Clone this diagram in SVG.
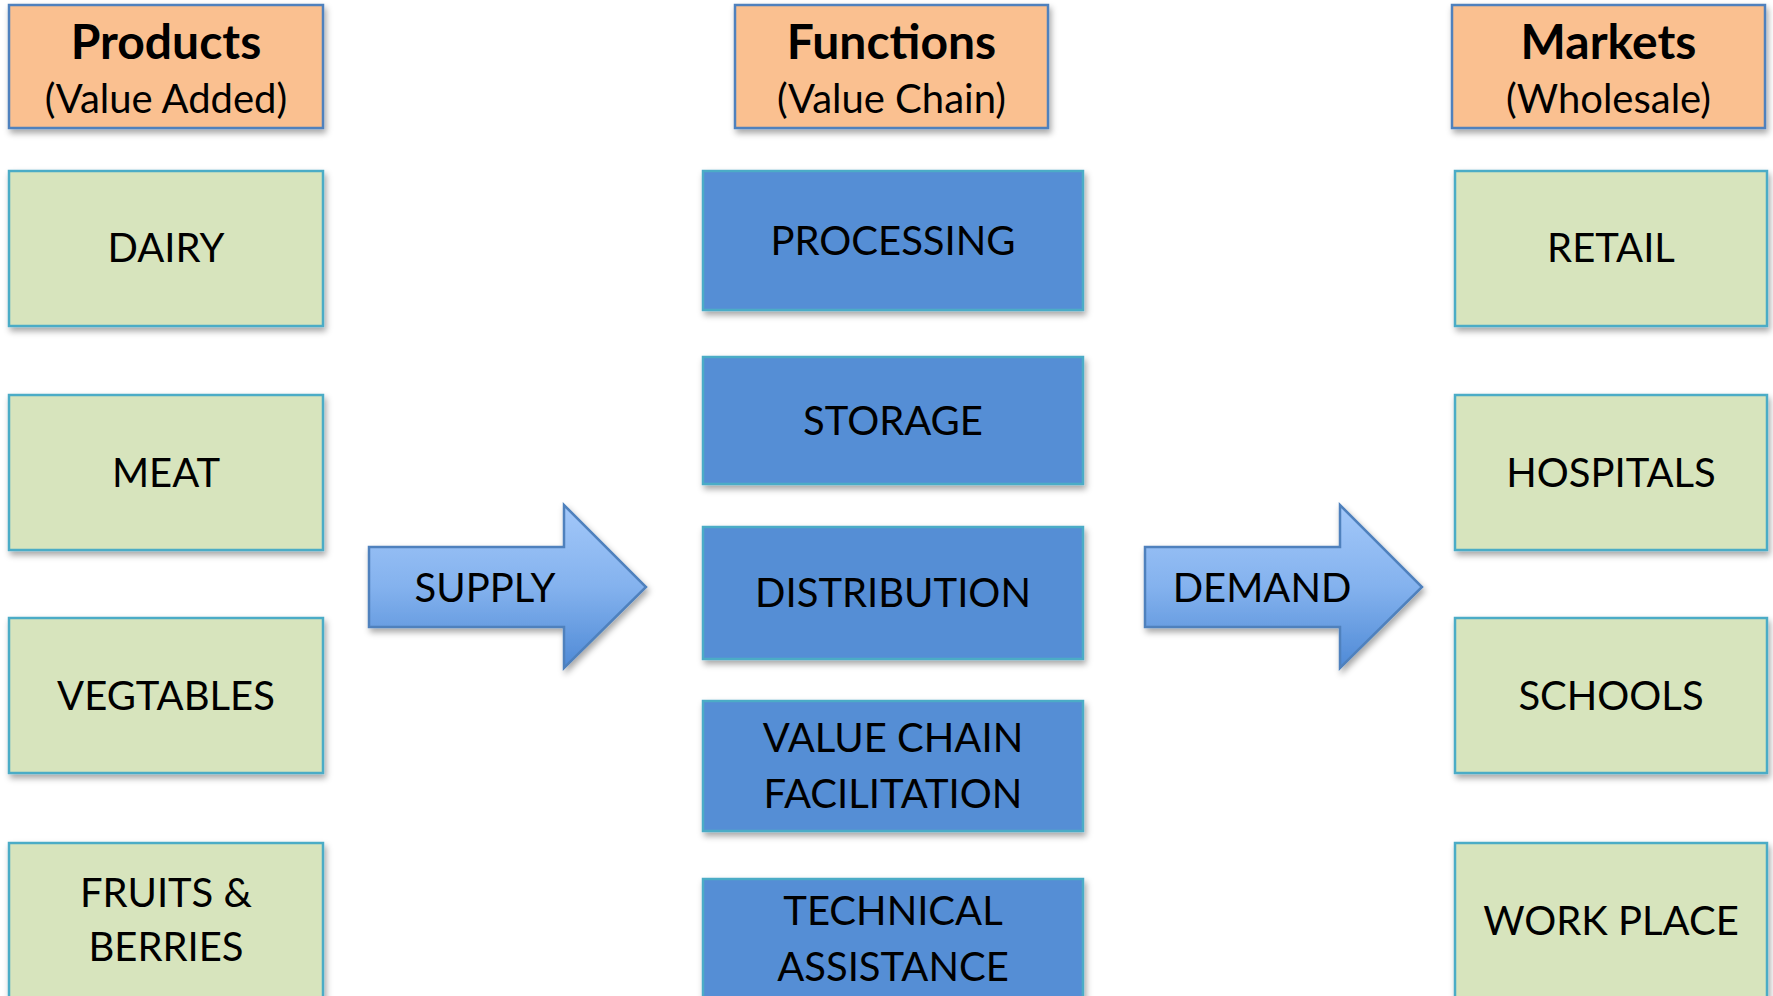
<svg xmlns="http://www.w3.org/2000/svg" width="1773" height="996" viewBox="0 0 1773 996">
<style>
text{font-family:Lato,"Liberation Sans",sans-serif;fill:#000;text-anchor:middle}
.t{font-size:40px}
.h{font-size:48px;font-weight:bold}
.hs{font-size:40px}
.hdr{fill:#FAC090;stroke:#4F81BD;stroke-width:2.5}
.grn{fill:#D7E4BD;stroke:#4BACC6;stroke-width:2.5}
.blu{fill:#558ED5;stroke:#4BACC6;stroke-width:2.5}
.arr{fill:url(#ag);stroke:#4F81BD;stroke-width:2.5;stroke-linejoin:miter}
</style>
<defs>
<filter id="sh" x="-10%" y="-10%" width="125%" height="130%">
<feDropShadow dx="2" dy="4" stdDeviation="3" flood-color="#000" flood-opacity="0.35"/>
</filter>
<linearGradient id="ag" x1="0" y1="0" x2="0" y2="1">
<stop offset="0" stop-color="#A3C8F9"/>
<stop offset="0.5" stop-color="#84B2EE"/>
<stop offset="1" stop-color="#4F8AD6"/>
</linearGradient>
</defs>
<rect width="1773" height="996" fill="#fff"/>

<g id="hdr-products"><rect class="hdr" filter="url(#sh)" x="9" y="5" width="314" height="123"/><text class="h" x="166" y="59">Products</text><text class="hs" x="166" y="113">(Value Added)</text></g>
<g id="hdr-functions"><rect class="hdr" filter="url(#sh)" x="735" y="5" width="313" height="123"/><text class="h" x="891.5" y="59">Functions</text><text class="hs" x="891.5" y="113">(Value Chain)</text></g>
<g id="hdr-markets"><rect class="hdr" filter="url(#sh)" x="1452" y="5" width="313" height="123"/><text class="h" x="1608.5" y="59">Markets</text><text class="hs" x="1608.5" y="113">(Wholesale)</text></g>

<g id="dairy"><rect class="grn" filter="url(#sh)" x="9" y="171" width="314" height="155"/><text class="t" x="166" y="262">DAIRY</text></g>
<g id="meat"><rect class="grn" filter="url(#sh)" x="9" y="395" width="314" height="155"/><text class="t" x="166" y="487">MEAT</text></g>
<g id="vegtables"><rect class="grn" filter="url(#sh)" x="9" y="618" width="314" height="155"/><text class="t" x="166" y="710">VEGTABLES</text></g>
<g id="fruits"><rect class="grn" filter="url(#sh)" x="9" y="843" width="314" height="155"/><text class="t" x="166" y="907">FRUITS &amp;</text><text class="t" x="166" y="961">BERRIES</text></g>

<g id="processing"><rect class="blu" filter="url(#sh)" x="703" y="171" width="380" height="139"/><text class="t" x="893" y="255">PROCESSING</text></g>
<g id="storage"><rect class="blu" filter="url(#sh)" x="703" y="357" width="380" height="127"/><text class="t" x="893" y="435">STORAGE</text></g>
<g id="distribution"><rect class="blu" filter="url(#sh)" x="703" y="527" width="380" height="132"/><text class="t" x="893" y="607">DISTRIBUTION</text></g>
<g id="vcf"><rect class="blu" filter="url(#sh)" x="703" y="701" width="380" height="130"/><text class="t" x="893" y="752">VALUE CHAIN</text><text class="t" x="893" y="808">FACILITATION</text></g>
<g id="tech"><rect class="blu" filter="url(#sh)" x="703" y="879" width="380" height="130"/><text class="t" x="893" y="925">TECHNICAL</text><text class="t" x="893" y="981">ASSISTANCE</text></g>

<g id="retail"><rect class="grn" filter="url(#sh)" x="1455" y="171" width="312" height="155"/><text class="t" x="1611" y="262">RETAIL</text></g>
<g id="hospitals"><rect class="grn" filter="url(#sh)" x="1455" y="395" width="312" height="155"/><text class="t" x="1611" y="487">HOSPITALS</text></g>
<g id="schools"><rect class="grn" filter="url(#sh)" x="1455" y="618" width="312" height="155"/><text class="t" x="1611" y="710">SCHOOLS</text></g>
<g id="workplace"><rect class="grn" filter="url(#sh)" x="1455" y="843" width="312" height="155"/><text class="t" x="1611" y="935">WORK PLACE</text></g>

<g id="connectors">
<g id="supply"><path class="arr" filter="url(#sh)" d="M369,547 L564,547 L564,505 L646,587 L564,668 L564,627 L369,627 Z"/><text class="t" x="485" y="602">SUPPLY</text></g>
<g id="demand"><path class="arr" filter="url(#sh)" d="M1145,547 L1340,547 L1340,505 L1422,587 L1340,668 L1340,627 L1145,627 Z"/><text class="t" x="1262" y="602">DEMAND</text></g>
</g>
</svg>
